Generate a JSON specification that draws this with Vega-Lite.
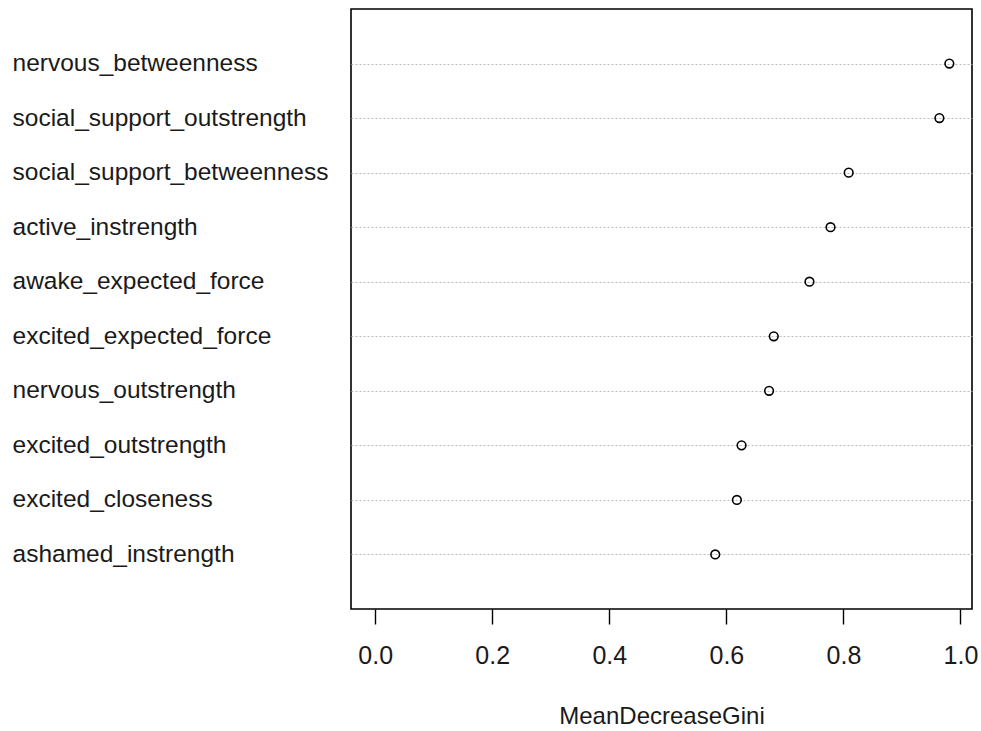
{
  "$schema": "https://vega.github.io/schema/vega-lite/v6.json",
  "width": 621,
  "height": 600,
  "autosize": {"type": "none"},
  "padding": {"left": 351, "top": 9, "right": 9, "bottom": 122},
  "background": "white",
  "config": {
    "font": "Liberation Sans",
    "view": {"stroke": "#000000", "strokeWidth": 1.6}
  },
  "data": {
    "values": [
      {"variable": "nervous_betweenness", "MeanDecreaseGini": 0.981},
      {"variable": "social_support_outstrength", "MeanDecreaseGini": 0.964},
      {"variable": "social_support_betweenness", "MeanDecreaseGini": 0.809},
      {"variable": "active_instrength", "MeanDecreaseGini": 0.778},
      {"variable": "awake_expected_force", "MeanDecreaseGini": 0.742},
      {"variable": "excited_expected_force", "MeanDecreaseGini": 0.681},
      {"variable": "nervous_outstrength", "MeanDecreaseGini": 0.673},
      {"variable": "excited_outstrength", "MeanDecreaseGini": 0.626},
      {"variable": "excited_closeness", "MeanDecreaseGini": 0.618},
      {"variable": "ashamed_instrength", "MeanDecreaseGini": 0.581}
    ]
  },
  "mark": {"type": "point", "shape": "circle", "filled": false, "color": "#000000", "size": 75, "strokeWidth": 1.6, "opacity": 1},
  "encoding": {
    "x": {
      "field": "MeanDecreaseGini",
      "type": "quantitative",
      "scale": {"domain": [-0.0413, 1.0197], "nice": false, "zero": false},
      "axis": {
        "values": [0, 0.2, 0.4, 0.6, 0.8, 1.0],
        "format": ".1f",
        "domain": false,
        "grid": false,
        "ticks": true,
        "tickSize": 15,
        "tickColor": "#000000",
        "tickWidth": 1.4,
        "labelFontSize": 25,
        "labelColor": "#1a1a1a",
        "labelPadding": 19,
        "labelFlush": false,
        "title": "MeanDecreaseGini",
        "titleFontSize": 24,
        "titleFontWeight": "normal",
        "titleColor": "#1a1a1a",
        "titlePadding": 36
      }
    },
    "y": {
      "field": "variable",
      "type": "nominal",
      "sort": null,
      "scale": {"type": "point", "padding": 1},
      "axis": {
        "title": null,
        "domain": false,
        "ticks": false,
        "grid": true,
        "gridDash": [2, 2],
        "gridColor": "#bdbdbd",
        "gridWidth": 1,
        "labelAlign": "left",
        "labelPadding": 339,
        "labelFontSize": 24.5,
        "labelColor": "#1a1a1a",
        "labelLimit": 0
      }
    }
  }
}
